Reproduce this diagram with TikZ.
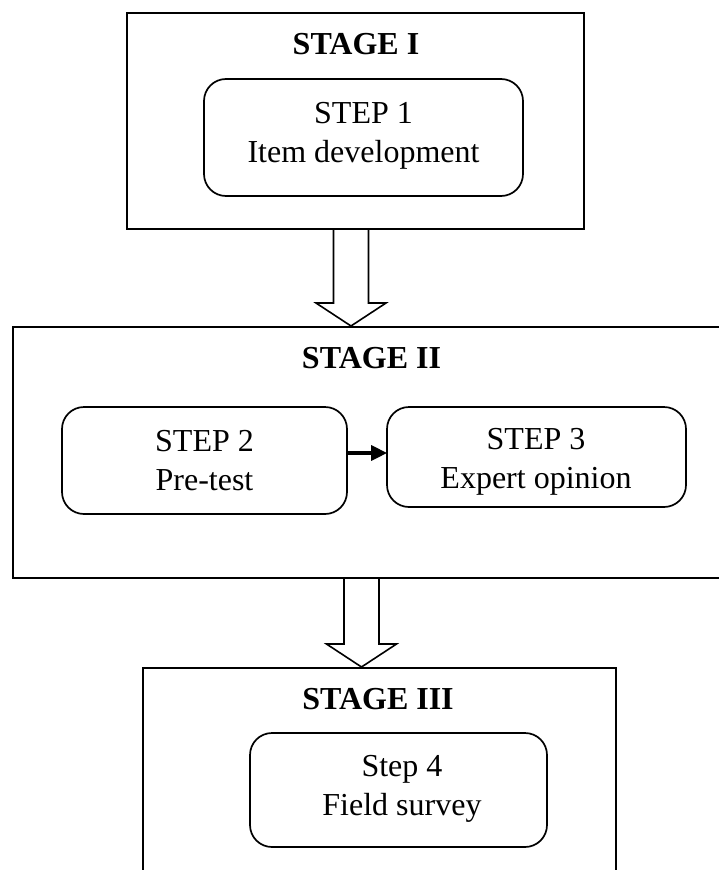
\documentclass[tikz,border=0pt]{standalone}
\usepackage{fontspec}
\setmainfont{Liberation Serif}
\usetikzlibrary{calc,arrows.meta}

\tikzset{
  stagebox/.style={draw, line width=2pt, rectangle, inner sep=0pt},
  stepbox/.style={draw, line width=1.7pt, rectangle, rounded corners=22pt, inner sep=0pt},
  stagetitle/.style={anchor=base, inner sep=0pt, font=\fontsize{32}{38.5}\selectfont\bfseries},
  % anchor=base of a two-line label sits on the baseline of its last line
  steptext/.style={anchor=base, inner sep=0pt, align=center, font=\fontsize{32}{38.5}\selectfont},
  hollow/.style={draw, line width=1.6pt, line join=miter},
  linkarrow/.style={line width=3.2pt, -{Triangle[length=16pt,width=15pt]}, shorten >=-1pt}
}

% draws a hollow block arrow from #1 (top of the shaft) down to #2 (the tip)
\newcommand{\blockarrow}[2]{%
  \draw[hollow] ($(#1)+(-17.5,0)$) -- ($(#2)+(-17.5,-23)$) -- ($(#2)+(-35,-23)$)
    -- (#2) -- ($(#2)+(35,-23)$) -- ($(#2)+(17.5,-23)$) -- ($(#1)+(17.5,0)$);}

\begin{document}
\begin{tikzpicture}[x=1pt, y=-1pt]
  \useasboundingbox (0,0) rectangle (719,870);

  % stage frames
  \node[stagebox, minimum width=457pt, minimum height=216pt] (st1) at (355.5,121) {};
  \node[stagebox, minimum width=727pt, minimum height=251pt] (st2) at (376.5,452.5) {};
  \node[stagebox, minimum width=473pt, minimum height=222pt] (st3) at (379.5,779) {};

  % stage titles
  \node[stagetitle] (t1) at (356,54) {STAGE I};
  \node[stagetitle] (t2) at (371.5,368) {STAGE II};
  \node[stagetitle] (t3) at (378,709) {STAGE III};

  % step boxes
  \node[stepbox, minimum width=319pt, minimum height=117pt] (s1) at (363.5,137.5) {};
  \node[stepbox, minimum width=285pt, minimum height=107pt] (s2) at (204.5,460.5) {};
  \node[stepbox, minimum width=299pt, minimum height=100pt] (s3) at (536.5,457) {};
  \node[stepbox, minimum width=297pt, minimum height=114pt] (s4) at (398.5,790) {};

  % step labels
  \node[steptext] (l1) at (363.5,162) {STEP 1\\Item development};
  \node[steptext] (l2) at (204.5,490) {STEP 2\\Pre-test};
  \node[steptext] (l3) at (536,488) {STEP 3\\Expert opinion};
  \node[steptext] (l4) at (402,815) {Step 4\\Field survey};

  % link between steps 2 and 3
  \coordinate (row) at (0,453);
  \draw[linkarrow] (s2.east |- row) -- (s3.west |- row);

  % block arrows between stages
  \coordinate (a1s) at (st1.south -| 351,0);
  \coordinate (a1e) at (st2.north -| 351,0);
  \coordinate (a2s) at (st2.south -| 361.5,0);
  \coordinate (a2e) at (st3.north -| 361.5,0);
  \blockarrow{a1s}{a1e}
  \blockarrow{a2s}{a2e}
\end{tikzpicture}
\end{document}
